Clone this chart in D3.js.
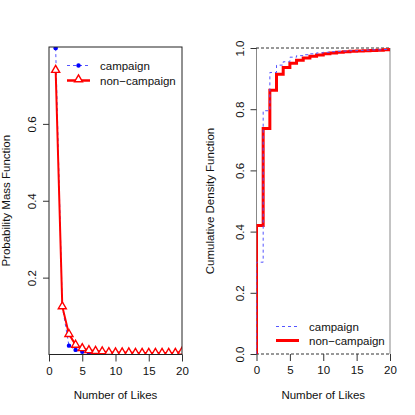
<!DOCTYPE html>
<html><head><meta charset="utf-8">
<script src="https://cdn.jsdelivr.net/npm/d3@7"></script>
<style>body{margin:0;background:#fff}svg{display:block}text{font-family:"Liberation Sans",Arial,sans-serif}</style>
</head><body><svg id="c" width="415" height="415"></svg>
<script>
const likes = d3.range(1, 21);
const pmfCampaign = [0.797, 0.125, 0.023, 0.012, 0.007, 0.004, 0.003, 0.003, 0.002, 0.002, 0.002, 0.001, 0.001, 0.001, 0.001, 0.001, 0.001, 0.001, 0.001, 0.001];
const pmfNonCampaign = [0.74, 0.125, 0.053, 0.025, 0.016, 0.011, 0.009, 0.008, 0.006, 0.005, 0.005, 0.005, 0.004, 0.004, 0.004, 0.004, 0.004, 0.004, 0.004, 0.007];
const cdfX = d3.range(0, 21);
const cdfCampaign = [0.30, 0.795, 0.92, 0.944, 0.955, 0.97, 0.975, 0.978, 0.981, 0.984, 0.986, 0.988, 0.989, 0.99, 0.991, 0.992, 0.993, 0.994, 0.994, 0.995, 0.996];
const cdfNonCampaign = [0.42, 0.737, 0.862, 0.914, 0.936, 0.95, 0.96, 0.967, 0.973, 0.977, 0.981, 0.984, 0.986, 0.988, 0.989, 0.99, 0.991, 0.992, 0.993, 0.994, 0.995];
const xTicks = [0, 5, 10, 15, 20];
const pmfYTicks = [0.2, 0.4, 0.6];
const cdfYTicks = [0.0, 0.2, 0.4, 0.6, 0.8, 1.0];
const seriesNames = ["campaign", "non\u2212campaign"];

const svg = d3.select("#c");
const BLUE = "#0000ff", BLUEL = "#5555ff", RED = "#ff0000";
const FS = 11.5;

function axes(g, x, y, yt, yTitle, titleX) {
  const [x0, x1] = x.range(), [y0, y1] = y.range();
  g.append("g").attr("transform", `translate(0,${y0})`)
    .call(d3.axisBottom(x).tickValues(xTicks).tickSize(7).tickPadding(5).tickFormat(d3.format("d")))
    .call(a => { a.select(".domain").remove(); a.selectAll("line").attr("stroke", "#333"); a.selectAll("text").attr("font-size", FS).attr("fill", "#111"); });
  const ya = g.append("g").attr("transform", `translate(${x0},0)`)
    .call(d3.axisLeft(y).tickValues(yt).tickSize(6).tickFormat(d3.format(".1f")))
    .call(a => { a.select(".domain").remove(); a.selectAll("line").attr("stroke", "#333"); });
  ya.selectAll("text").attr("font-size", FS).attr("fill", "#111")
    .attr("transform", "rotate(-90)").attr("x", 0).attr("dy", 0)
    .attr("y", -13).attr("text-anchor", "middle");
  g.append("text").attr("x", (x0 + x1) / 2).attr("y", 399).attr("text-anchor", "middle")
    .attr("font-size", FS).attr("fill", "#111").text("Number of Likes");
  g.append("text").attr("transform", `translate(${titleX},${(y0 + y1) / 2}) rotate(-90)`)
    .attr("text-anchor", "middle").attr("font-size", FS).attr("fill", "#111").text(yTitle);
}

// ---- Left: PMF ----
const xL = d3.scaleLinear().domain([0, 20]).range([49, 182]);
const yL = d3.scaleLinear().domain([0, 0.8]).range([354.5, 47]);
const gL = svg.append("g");
svg.append("clipPath").attr("id", "clipL").append("rect").attr("x", 49).attr("y", 47).attr("width", 133).attr("height", 307.5);
const pL = gL.append("g").attr("clip-path", "url(#clipL)");
const lineL = d3.line().x((d, i) => xL(likes[i])).y(d => yL(d));
pL.append("path").attr("d", lineL(pmfCampaign)).attr("fill", "none").attr("stroke", BLUEL).attr("stroke-width", 1).attr("stroke-dasharray", "3,3");
pL.selectAll(".dc").data(pmfCampaign).join("circle").attr("cx", (d, i) => xL(likes[i])).attr("cy", d => yL(d)).attr("r", 2.2).attr("fill", BLUE);
pL.append("path").attr("d", lineL(pmfNonCampaign)).attr("fill", "none").attr("stroke", RED).attr("stroke-width", 2);
const tri = d3.symbol().type(d3.symbolTriangle).size(28);
pL.selectAll(".tn").data(pmfNonCampaign).join("path").attr("d", tri)
  .attr("transform", (d, i) => `translate(${xL(likes[i])},${yL(d)})`)
  .attr("fill", "#fff").attr("stroke", RED).attr("stroke-width", 1.4);
gL.append("rect").attr("x", 49).attr("y", 47).attr("width", 133).attr("height", 307.5).attr("fill", "none").attr("stroke", "#222").attr("stroke-width", 1);
axes(gL, xL, yL, pmfYTicks, "Probability Mass Function", 10);
const lgL = gL.append("g");
lgL.append("line").attr("x1", 67).attr("x2", 90).attr("y1", 65.5).attr("y2", 65.5).attr("stroke", BLUEL).attr("stroke-dasharray", "3,3");
lgL.append("circle").attr("cx", 78.5).attr("cy", 65.5).attr("r", 2.2).attr("fill", BLUE);
lgL.append("line").attr("x1", 67).attr("x2", 90).attr("y1", 80.5).attr("y2", 80.5).attr("stroke", RED).attr("stroke-width", 2.5);
lgL.append("path").attr("d", tri).attr("transform", "translate(78.5,79.5)").attr("fill", "#fff").attr("stroke", RED).attr("stroke-width", 1.4);
lgL.selectAll(".lt").data(seriesNames).join("text").attr("x", 100).attr("y", (d, i) => 70 + i * 15).attr("font-size", FS).attr("fill", "#111").text(d => d);

// ---- Right: CDF ----
const xR = d3.scaleLinear().domain([0, 20]).range([256.5, 390]);
const yR = d3.scaleLinear().domain([0, 1]).range([354, 48]);
const gR = svg.append("g");
svg.append("clipPath").attr("id", "clipR").append("rect").attr("x", 256.5).attr("y", 47).attr("width", 133.5).attr("height", 308);
gR.append("line").attr("x1", 256.5).attr("x2", 256.5).attr("y1", 48).attr("y2", 354).attr("stroke", "#888");
gR.append("line").attr("x1", 390).attr("x2", 390).attr("y1", 48).attr("y2", 354).attr("stroke", "#888");
[0, 1].forEach(v => gR.append("line").attr("x1", 256).attr("x2", 390.5).attr("y1", yR(v)).attr("y2", yR(v)).attr("stroke", "#333").attr("stroke-dasharray", "3,2"));
const pR = gR.append("g").attr("clip-path", "url(#clipR)");
const stepLine = d3.line().x(d => xR(d[0])).y(d => yR(d[1])).curve(d3.curveStepAfter);
const mk = arr => [[0, 0]].concat(cdfX.map((x, i) => [x, arr[i]])).concat([[20.5, arr[arr.length - 1]]]);
pR.append("path").attr("d", stepLine(mk(cdfNonCampaign))).attr("fill", "none").attr("stroke", RED).attr("stroke-width", 3);
pR.append("path").attr("d", stepLine(mk(cdfCampaign))).attr("fill", "none").attr("stroke", BLUEL).attr("stroke-width", 1).attr("stroke-dasharray", "3,3");
axes(gR, xR, yR, cdfYTicks, "Cumulative Density Function", 214);
const lgR = gR.append("g");
lgR.append("line").attr("x1", 276).attr("x2", 299).attr("y1", 326.5).attr("y2", 326.5).attr("stroke", BLUEL).attr("stroke-dasharray", "3,3");
lgR.append("line").attr("x1", 276).attr("x2", 299).attr("y1", 340.5).attr("y2", 340.5).attr("stroke", RED).attr("stroke-width", 3);
lgR.selectAll(".lt").data(seriesNames).join("text").attr("x", 309).attr("y", (d, i) => 331 + i * 14).attr("font-size", FS).attr("fill", "#111").text(d => d);
</script></body></html>
